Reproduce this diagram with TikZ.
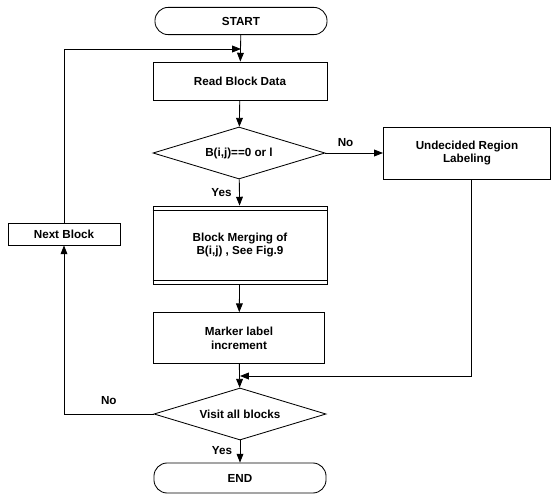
\documentclass[tikz,border=0pt]{standalone}
\usepackage{fontspec}
\setsansfont{Liberation Sans}
\usetikzlibrary{arrows.meta, positioning, shapes.geometric}

\begin{document}
\begin{tikzpicture}[x=0.025cm, y=-0.025cm,
    every node/.style={font=\sffamily\bfseries\fontsize{8.3}{9.8}\selectfont},
    process/.style={draw, line width=0.6pt, align=center, minimum width=4.35cm, minimum height=0.95cm},
    term/.style={draw, line width=0.6pt, rounded corners=0.33cm, minimum width=4.3cm, minimum height=0.68cm},
    decision/.style={draw, diamond, aspect=3.3, line width=0.6pt, inner sep=0pt, minimum width=4.3cm, minimum height=1.3cm},
    flow/.style={line width=0.6pt, -{Triangle[length=2.2mm,width=1.7mm]}},
    wire/.style={line width=0.6pt}]
    \useasboundingbox (0,0) rectangle (553,494);

    % Main column
    \node[term] (start) at (241,21) {START};
    \node[process] (read) at (240,81) {Read Block Data};
    \node[decision] (check) at (239,153) {B(i,j)==0 or l};
    \node[process, minimum height=1.95cm] (merge) at (240,245) {Block Merging of\\B(i,j) , See Fig.9};
    \node[process, minimum width=4.28cm, minimum height=1.27cm] (marker) at (239,338) {Marker label\\increment};
    \node[decision] (visit) at (240,414) {Visit all blocks};
    \node[term, minimum height=0.75cm] (end) at (240,478) {END};

    % Side boxes
    \node[process, minimum width=4.18cm, minimum height=1.3cm] (undecided) at (467,153) {Undecided Region\\Labeling};
    \node[process, minimum width=2.8cm, minimum height=0.55cm] (next) at (64,234) {Next Block};

    % Inner lines of the merging box
    \draw[wire] ([yshift=-0.11cm]merge.north west) -- ([yshift=-0.11cm]merge.north east);
    \draw[wire] ([yshift=0.11cm]merge.south west) -- ([yshift=0.11cm]merge.south east);

    % Junctions
    \coordinate (topjoin) at (241,49);
    \coordinate (lowjoin) at (240,376);

    % Connectors
    \draw[flow] (start) -- (read);
    \draw[flow] (read) -- (check);
    \draw[flow] (check) -- node[pos=0.35, above=1pt]{No} (undecided);
    \draw[flow] (check) -- node[pos=0.5, left=2pt]{Yes} (merge);
    \draw[flow] (merge) -- (marker);
    \draw[flow] (marker) -- (visit);
    \draw[flow] ([xshift=0.12cm]undecided.south) |- (lowjoin);
    \draw[flow] (visit) -- node[pos=0.45, left=2pt]{Yes} (end);
    \draw[flow] (visit.west) -| node[pos=0.25, above=3pt]{No} (next.south);
    \draw[flow] (next.north) |- (topjoin);
\end{tikzpicture}
\end{document}
